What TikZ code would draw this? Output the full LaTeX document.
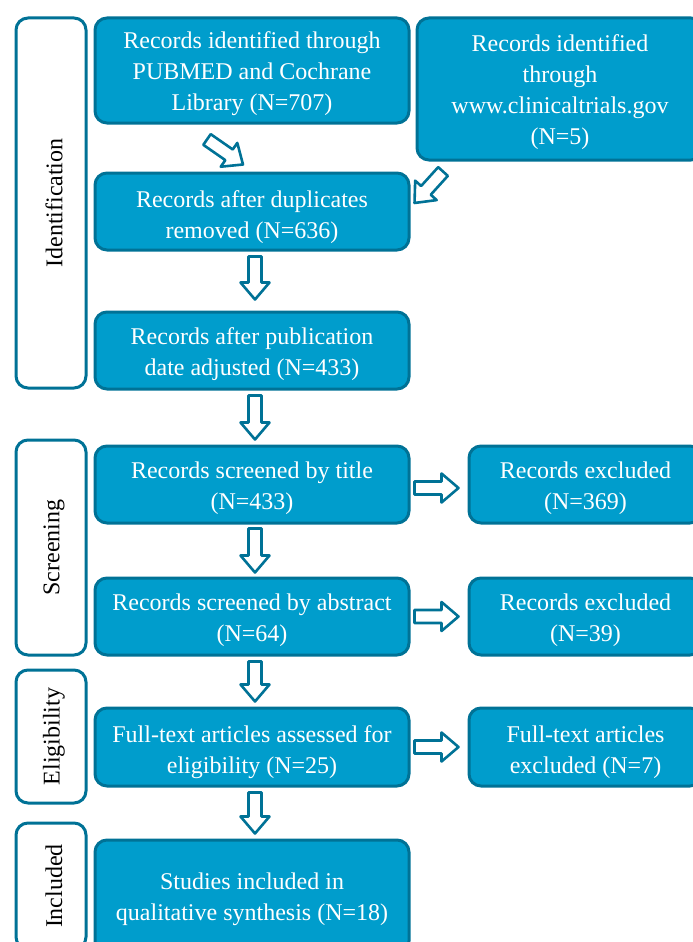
\documentclass[tikz,border=0pt]{standalone}
\usepackage{fontspec}
\setmainfont{Liberation Serif}
\usetikzlibrary{calc}
\definecolor{boxfill}{RGB}{0,157,204}
\definecolor{boxline}{RGB}{0,114,150}
\tikzset{
  mainbox/.style={draw=boxline, fill=boxfill, line width=3pt, rounded corners=12pt,
    inner sep=0pt},
  boxtext/.style={text=white, align=center, inner sep=0pt,
    font=\fontsize{24}{31}\selectfont},
  stagebox/.style={draw=boxline, fill=white, line width=3pt, rounded corners=12pt,
    inner sep=0pt},
  stagetext/.style={rotate=90, text=black, font=\fontsize{24}{31}\selectfont, inner sep=0pt},
  hollow/.style={draw=boxline, fill=white, line width=2.6pt, line join=round,
    to path={
      let \p1=(\tikztostart), \p2=(\tikztotarget),
          \n1={atan2(\y2-\y1,\x2-\x1)}, \n2={veclen(\x2-\x1,\y2-\y1)} in
      [shift={(\p1)}, rotate=\n1]
      (0,6.5) -- (\n2-17,6.5) -- (\n2-17,14.5) -- (\n2,0) -- (\n2-17,-14.5)
      -- (\n2-17,-6.5) -- (0,-6.5) -- cycle
    }},
}
\begin{document}
\begin{tikzpicture}[x=1pt,y=-1pt]
\useasboundingbox (0,0) rectangle (693,942);
% stage boxes
\node[stagebox, minimum width=70pt, minimum height=370pt] (lid) at (51,203) {};
\node[stagetext] (tid) at ($(lid.center)+(3,0)$) {Identification};
\node[stagebox, minimum width=70pt, minimum height=215pt] (lsc) at (51,547.5) {};
\node[stagetext] (tsc) at ($(lsc.center)+(3,0)$) {Screening};
\node[stagebox, minimum width=70pt, minimum height=133pt] (lel) at (51,736.5) {};
\node[stagetext] (tel) at ($(lel.center)+(3,0)$) {Eligibility};
\node[stagebox, minimum width=70pt, minimum height=126pt] (lin) at (51,886) {};
\node[stagetext] (tin) at ($(lin.center)+(3,0)$) {Included};
% main boxes
\node[mainbox, minimum width=314pt, minimum height=105pt] (id1) at (252,70.5) {};
\node[boxtext] (id1t) at ($(id1.center)+(0,3.5)$)
  {Records identified through\\PUBMED and Cochrane\\Library (N=707)};
\node[mainbox, minimum width=286pt, minimum height=142pt] (ct) at (560,89) {};
\node[boxtext] (ctt) at ($(ct.center)+(0,3.5)$)
  {Records identified\\through\\www.clinicaltrials.gov\\(N=5)};
\node[mainbox, minimum width=314pt, minimum height=77pt] (dup) at (252,211.5) {};
\node[boxtext] (dupt) at ($(dup.center)+(0,6)$)
  {Records after duplicates\\removed (N=636)};
\node[mainbox, minimum width=314pt, minimum height=77pt] (date) at (252,350.5) {};
\node[boxtext] (datet) at ($(date.center)+(0,4)$)
  {Records after publication\\date adjusted (N=433)};
\node[mainbox, minimum width=314pt, minimum height=77pt] (title) at (252,484.5) {};
\node[boxtext] (titlet) at ($(title.center)+(0,4)$)
  {Records screened by title\\(N=433)};
\node[mainbox, minimum width=314pt, minimum height=77pt] (abs) at (252,616.5) {};
\node[boxtext] (abst) at ($(abs.center)+(0,4)$)
  {Records screened by abstract\\(N=64)};
\node[mainbox, minimum width=314pt, minimum height=78pt] (full) at (252,747) {};
\node[boxtext] (fullt) at ($(full.center)+(0,5)$)
  {Full-text articles assessed for\\eligibility (N=25)};
\node[mainbox, minimum width=314pt, minimum height=113pt] (incl) at (252,896.5) {};
\node[boxtext] (inclt) at ($(incl.center)+(0,3)$)
  {Studies included in\\qualitative synthesis (N=18)};
\node[mainbox, minimum width=233pt, minimum height=77pt] (ex1) at (585.5,484.5) {};
\node[boxtext] (ex1t) at ($(ex1.center)+(0,4)$)
  {Records excluded\\(N=369)};
\node[mainbox, minimum width=233pt, minimum height=77pt] (ex2) at (585.5,616.5) {};
\node[boxtext] (ex2t) at ($(ex2.center)+(0,4)$)
  {Records excluded\\(N=39)};
\node[mainbox, minimum width=233pt, minimum height=78pt] (ex3) at (585.5,747) {};
\node[boxtext] (ex3t) at ($(ex3.center)+(0,5)$)
  {Full-text articles\\excluded (N=7)};
% arrows
\draw[hollow] ($(id1.south)+(-45,15)$) to ($(dup.north)+(-9,-7)$);
\draw[hollow] ($(ct.south)+(-117,10)$) to ($(dup.east)+(4,-8.5)$);
\draw[hollow] ($(dup.south)+(3,5)$) to ($(date.north)+(3,-11)$);
\draw[hollow] ($(date.south)+(3,5)$) to ($(title.north)+(3,-5)$);
\draw[hollow] ($(title.south)+(3,4)$) to ($(abs.north)+(3,-4)$);
\draw[hollow] ($(abs.south)+(3,5)$) to ($(full.north)+(3,-5)$);
\draw[hollow] ($(full.south)+(3,5)$) to ($(incl.north)+(3,-5)$);
\draw[hollow] ($(title.east)+(4,3.5)$) to ($(ex1.west)+(-9,3.5)$);
\draw[hollow] ($(abs.east)+(4,0)$) to ($(ex2.west)+(-9,0)$);
\draw[hollow] ($(full.east)+(4,0)$) to ($(ex3.west)+(-9,0)$);
\end{tikzpicture}
\end{document}
